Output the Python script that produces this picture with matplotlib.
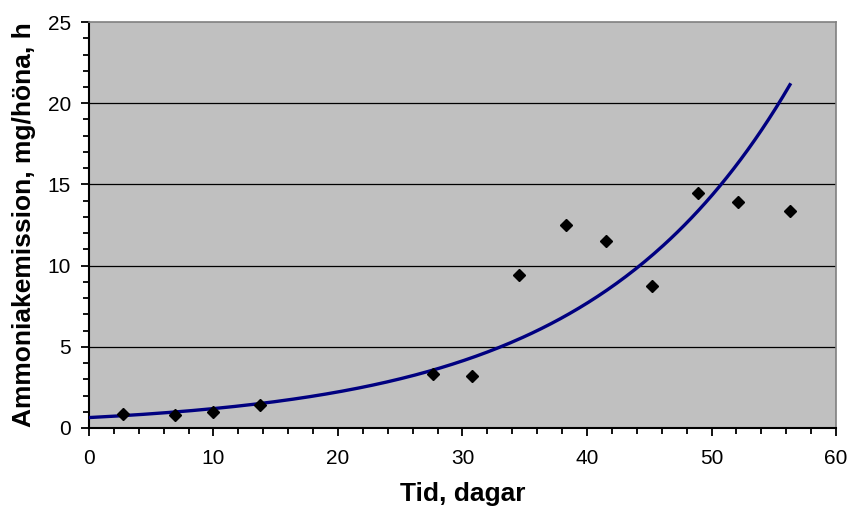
import numpy as np
import matplotlib
matplotlib.use('Agg')
import matplotlib.pyplot as plt
from matplotlib.ticker import MultipleLocator

# data
dagar = [2.7, 6.9, 10.0, 13.7, 27.6, 30.8, 34.5, 38.3, 41.5, 45.2, 48.9, 52.1, 56.3]
emission = [0.86, 0.8, 1.0, 1.4, 3.3, 3.2, 9.4, 12.5, 11.5, 8.75, 14.5, 13.9, 13.35]
x_ticks = [0, 10, 20, 30, 40, 50, 60]
y_ticks = [0, 5, 10, 15, 20, 25]

plt.rcParams['font.family'] = ['Liberation Sans', 'DejaVu Sans']

fig = plt.figure(figsize=(8.49, 5.13), dpi=100)
ax = fig.add_axes([0.1048, 0.1657, 0.8799, 0.7913])
ax.set_facecolor('#c0c0c0')

# exponentiell trendlinje (samma som Excel: anpassning av ln y)
b, ln_a = np.polyfit(dagar, np.log(emission), 1)
xs = np.linspace(0, max(dagar), 300)
ax.plot(xs, np.exp(ln_a) * np.exp(b * xs), color='#000080', lw=2.4, zorder=3)

ax.plot(dagar, emission, linestyle='none', marker='D', ms=6.5, color='black', zorder=4)

ax.set_xlim(0, 60)
ax.set_ylim(0, 25)
ax.set_xticks(x_ticks)
ax.set_yticks(y_ticks)
ax.xaxis.set_minor_locator(MultipleLocator(2))
ax.yaxis.set_minor_locator(MultipleLocator(1))
ax.tick_params(which='both', direction='out', width=1.3, labelsize=15)
ax.tick_params(which='major', length=6)
ax.tick_params(which='minor', length=4)
ax.tick_params(axis='x', which='major', pad=9)
ax.tick_params(axis='y', which='major', pad=7)

for y in y_ticks[1:-1]:
    ax.axhline(y, color='black', lw=0.9, zorder=1)

ax.spines['left'].set_linewidth(1.5)
ax.spines['bottom'].set_linewidth(1.5)
for s in ('top', 'right'):
    ax.spines[s].set_color('#808080')
    ax.spines[s].set_linewidth(1.2)

ax.set_xlabel('Tid, dagar', fontsize=19, fontweight='bold', labelpad=10.5)
ax.set_ylabel('Ammoniakemission, mg/höna, h', fontsize=19, fontweight='bold', labelpad=8)

fig.savefig('out.png', dpi=100)
